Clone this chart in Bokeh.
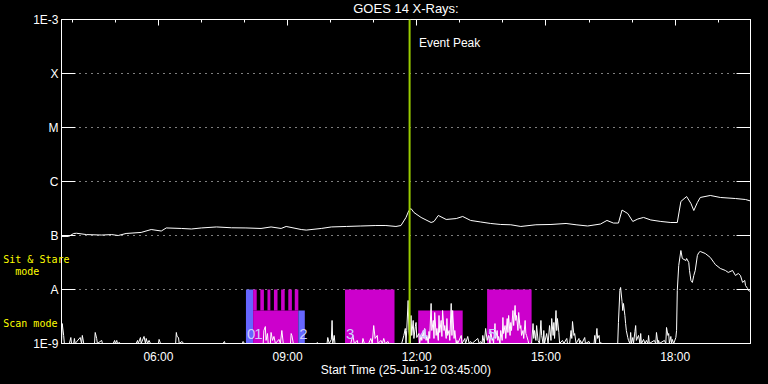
from bokeh.plotting import figure
from bokeh.models import (FixedTicker, LinearAxis, LogAxis, Span, Label, Grid,
                          ColumnDataSource, CustomJSTickFormatter, GlobalInlineStyleSheet)
from bokeh.core.properties import value
from bokeh.embed import file_html
from bokeh.resources import INLINE

# ---------------- data ----------------
START = "03:45"          # start time of the plot (UT, 25-Jun-12)
END = "19:45"

x_tick_labels = ["06:00", "09:00", "12:00", "15:00", "18:00"]
x_minor_labels = ["04:00", "05:00", "07:00", "08:00", "10:00", "11:00", "13:00",
                  "14:00", "16:00", "17:00", "19:00"]
y_tick_values = [1e-9, 1e-8, 1e-7, 1e-6, 1e-5, 1e-4, 1e-3]
y_tick_names = ["1E-9", "A", "B", "C", "M", "X", "1E-3"]
grid_levels = [1e-8, 1e-7, 1e-6, 1e-5, 1e-4]

# GOES 14 long channel (1-8 A), minutes after 03:45, W/m^2
long_min = [0, 10, 17, 21, 35, 56, 70, 79, 90, 111, 125, 139, 146, 167, 181, 195, 216,
            237, 257, 278, 292, 306, 313, 334, 341, 362, 376, 397, 417, 438, 452, 466,
            473, 480, 484, 487, 491, 501, 515, 519, 525, 536, 550, 559, 570, 584, 598,
            612, 626, 640, 661, 682, 703, 717, 733, 751, 760, 769, 776, 781, 789, 796,
            803, 811, 821, 835, 849, 858, 863, 871, 877, 881, 886, 890, 904, 918, 939,
            953, 960]
long_flux = [9.6e-8, 9.6e-8, 1.09e-7, 1.10e-7, 1.04e-7, 1.02e-7, 1.04e-7, 1.00e-7,
             1.09e-7, 1.14e-7, 1.29e-7, 1.21e-7, 1.38e-7, 1.35e-7, 1.32e-7, 1.38e-7,
             1.44e-7, 1.39e-7, 1.38e-7, 1.35e-7, 1.44e-7, 1.35e-7, 1.47e-7, 1.29e-7,
             1.26e-7, 1.35e-7, 1.44e-7, 1.47e-7, 1.50e-7, 1.53e-7, 1.53e-7, 1.47e-7,
             1.53e-7, 2.16e-7, 2.90e-7, 3.16e-7, 2.67e-7, 2.16e-7, 1.74e-7, 1.82e-7,
             2.35e-7, 1.98e-7, 2.06e-7, 2.25e-7, 1.90e-7, 1.78e-7, 1.67e-7, 1.60e-7,
             1.58e-7, 1.47e-7, 1.58e-7, 1.60e-7, 1.67e-7, 1.58e-7, 1.50e-7, 1.63e-7,
             1.90e-7, 1.70e-7, 1.70e-7, 2.96e-7, 2.55e-7, 1.82e-7, 2.02e-7, 2.16e-7,
             1.94e-7, 1.82e-7, 1.74e-7, 1.74e-7, 4.27e-7, 5.27e-7, 3.92e-7, 2.90e-7,
             4.08e-7, 5.06e-7, 5.51e-7, 5.06e-7, 4.84e-7, 4.64e-7, 4.36e-7]

# GOES 14 short channel (0.5-4 A), minutes after 03:45, W/m^2 (1e-9 = floor)
short_min = [0, 1, 3, 4, 11, 13, 14, 17, 18, 19, 26, 28, 29, 31, 46, 47, 49, 50, 56, 57,
             72, 74, 75, 77, 78, 81, 82, 104, 106, 107, 110, 111, 115, 117, 118, 120,
             122, 124, 135, 136, 138, 159, 160, 161, 163, 164, 168, 170, 225, 227, 228,
             252, 253, 255, 281, 282, 284, 285, 287, 288, 291, 292, 294, 296, 298, 303,
             305, 307, 309, 319, 320, 321, 323, 355, 356, 358, 370, 371, 373, 376, 377,
             378, 380, 381, 403, 406, 408, 412, 413, 419, 420, 422, 428, 431, 433, 435,
             437, 440, 441, 445, 447, 449, 451, 455, 456, 474, 477, 479, 480, 481, 483,
             484, 486, 487, 488, 490, 491, 493, 494, 495, 498, 499, 501, 502, 504, 505,
             506, 508, 509, 511, 512, 513, 515, 516, 518, 519, 520, 522, 523, 525, 526,
             527, 529, 530, 531, 533, 534, 536, 537, 538, 540, 541, 543, 544, 545, 547,
             548, 550, 551, 552, 557, 558, 562, 563, 566, 568, 570, 572, 580, 582, 584,
             586, 587, 589, 591, 593, 595, 597, 598, 600, 601, 602, 604, 605, 607, 608,
             609, 611, 612, 614, 615, 616, 618, 619, 621, 622, 623, 625, 626, 627, 629,
             630, 632, 633, 634, 636, 637, 639, 640, 641, 643, 644, 646, 647, 648, 650,
             651, 655, 657, 658, 659, 661, 662, 664, 666, 668, 669, 671, 672, 673, 676,
             678, 680, 682, 683, 685, 686, 687, 689, 690, 691, 693, 694, 698, 700, 704,
             705, 708, 710, 711, 712, 714, 715, 717, 721, 722, 723, 725, 729, 730, 735,
             736, 742, 743, 744, 746, 747, 749, 750, 751, 753, 775, 776, 778, 779, 781,
             782, 783, 785, 786, 787, 789, 790, 792, 793, 794, 796, 797, 799, 800, 801,
             804, 806, 807, 808, 811, 813, 815, 817, 818, 819, 826, 828, 829, 831, 832,
             833, 840, 842, 843, 845, 846, 847, 849, 850, 851, 853, 856, 857, 858, 860,
             863, 865, 870, 871, 874, 875, 877, 879, 881, 883, 886, 888, 890, 897, 904,
             909, 911, 918, 925, 929, 935, 939, 943, 946, 949, 952, 953, 956, 957, 960]
short_flux = [1e-9, 2.34e-9, 1.41e-9, 1e-9, 1e-9, 1.29e-9, 1e-9, 1e-9, 1.24e-9, 1e-9,
              1.29e-9, 1e-9, 1.41e-9, 1e-9, 1e-9, 1.60e-9, 1.24e-9, 1e-9, 1.14e-9, 1e-9,
              1e-9, 1.14e-9, 1e-9, 1.14e-9, 1e-9, 1.04e-9, 1e-9, 1e-9, 1.14e-9, 1e-9,
              1.29e-9, 1e-9, 1.35e-9, 1e-9, 1.24e-9, 1e-9, 1.14e-9, 1e-9, 1e-9, 1.19e-9,
              1e-9, 1e-9, 1.60e-9, 1.35e-9, 1.29e-9, 1e-9, 1.09e-9, 1e-9, 1e-9, 1.09e-9,
              1e-9, 1e-9, 1.09e-9, 1e-9, 1e-9, 1.74e-9, 2.06e-9, 1.14e-9, 1.53e-9, 1e-9,
              1e-9, 1.60e-9, 1.14e-9, 1.35e-9, 1e-9, 1.19e-9, 1e-9, 1.74e-9, 1e-9, 1e-9,
              1.53e-9, 1.41e-9, 1e-9, 1e-9, 1.04e-9, 1e-9, 1e-9, 1.29e-9, 1e-9, 1.19e-9,
              2.67e-9, 1e-9, 1.41e-9, 1e-9, 1e-9, 1.41e-9, 1e-9, 1.14e-9, 1e-9, 1e-9,
              1.24e-9, 1e-9, 1e-9, 1.24e-9, 1e-9, 2.15e-9, 1.24e-9, 1.41e-9, 1e-9,
              1.14e-9, 1e-9, 1.24e-9, 1e-9, 1.09e-9, 1e-9, 1e-9, 1.41e-9, 1.90e-9, 1e-9,
              1.74e-9, 6.26e-9, 1.74e-9, 1e-9, 3.30e-9, 1.41e-9, 2.67e-9, 1.24e-9,
              2.06e-9, 2.45e-9, 1.29e-9, 1.53e-9, 1e-9, 1.41e-9, 1.14e-9, 1.74e-9,
              1.24e-9, 1.90e-9, 1.14e-9, 1.41e-9, 1e-9, 1.67e-9, 1.24e-9, 5.51e-9,
              1.74e-9, 2.67e-9, 1.24e-9, 3.75e-9, 1.41e-9, 1.90e-9, 1.14e-9, 3.30e-9,
              1.60e-9, 2.67e-9, 1.35e-9, 4.08e-9, 1.74e-9, 2.15e-9, 1.24e-9, 2.90e-9,
              1.41e-9, 1.74e-9, 1.14e-9, 5.51e-9, 1.41e-9, 4.08e-9, 1.24e-9, 1.74e-9,
              1e-9, 1.14e-9, 1e-9, 1.41e-9, 1e-9, 1.24e-9, 1e-9, 1.35e-9, 1e-9, 1.09e-9,
              1e-9, 1.24e-9, 1e-9, 1.09e-9, 1e-9, 1.41e-9, 1e-9, 1.90e-9, 1.14e-9,
              1.41e-9, 1e-9, 1.74e-9, 1.14e-9, 1.24e-9, 1e-9, 2.34e-9, 1.24e-9, 1.74e-9,
              1.14e-9, 1.35e-9, 1e-9, 1.74e-9, 1.14e-9, 3.03e-9, 1.53e-9, 2.15e-9,
              1.24e-9, 2.90e-9, 1.60e-9, 3.30e-9, 1.41e-9, 2.45e-9, 1.74e-9, 4.08e-9,
              2.15e-9, 5.06e-9, 2.67e-9, 3.30e-9, 1.74e-9, 3.75e-9, 1.90e-9, 2.15e-9,
              1.41e-9, 1.74e-9, 1.24e-9, 2.67e-9, 1.53e-9, 1.41e-9, 1.14e-9, 1e-9, 1e-9,
              2.34e-9, 1.24e-9, 1.74e-9, 1.14e-9, 2.15e-9, 1.14e-9, 1e-9, 2.67e-9,
              1.41e-9, 1e-9, 1.74e-9, 1e-9, 1.53e-9, 1e-9, 2.15e-9, 1.14e-9, 2.90e-9,
              1.41e-9, 2.45e-9, 1.24e-9, 4.08e-9, 1.74e-9, 2.90e-9, 1.60e-9, 1e-9,
              1.14e-9, 1e-9, 1.24e-9, 1e-9, 1e-9, 1.74e-9, 1.24e-9, 2.55e-9, 1.41e-9,
              1.53e-9, 1e-9, 1.24e-9, 1e-9, 1.14e-9, 1e-9, 1.29e-9, 1e-9, 1.09e-9, 1e-9,
              1e-9, 1.41e-9, 1e-9, 1.90e-9, 1.24e-9, 1.41e-9, 1e-9, 1.04e-9, 1e-9, 1e-9,
              2.45e-9, 9.58e-9, 1.09e-8, 6.0e-9, 4.08e-9, 5.51e-9, 3.30e-9, 2.34e-9,
              1.74e-9, 1.29e-9, 1.14e-9, 1e-9, 1.60e-9, 1e-9, 1.29e-9, 1e-9, 1.67e-9,
              2.15e-9, 1.14e-9, 1.41e-9, 1e-9, 1.53e-9, 1e-9, 1.19e-9, 1e-9, 1.14e-9,
              1e-9, 1.41e-9, 1e-9, 1.14e-9, 1e-9, 1.60e-9, 1e-9, 1.14e-9, 1e-9, 1.14e-9,
              1e-9, 1.98e-9, 1.41e-9, 1.53e-9, 1e-9, 1.35e-9, 1e-9, 1.19e-9, 1e-9,
              1.29e-9, 1.74e-9, 9.58e-9, 2.78e-8, 5.27e-8, 3.75e-8, 3.44e-8, 3.75e-8,
              3.16e-8, 2.25e-8, 1.47e-8, 1.35e-8, 1.82e-8, 2.25e-8, 4.27e-8, 4.84e-8,
              5.06e-8, 4.64e-8, 3.92e-8, 3.16e-8, 2.90e-8, 2.45e-8, 2.25e-8, 2.07e-8,
              2.25e-8, 1.82e-8, 1.98e-8, 1.82e-8, 1.35e-8, 1.47e-8, 1.19e-8, 1.04e-8,
              9.58e-9, 9.18e-9]

# observations (IRIS-like timeline): id, start, end, mode, kind
obs_id = ["0", "1", "2", "3", "4", "5"]
obs_start = ["08:02", "08:12", "09:15", "10:20", "12:02", "13:38"]
obs_end = ["08:12", "09:15", "09:24", "11:29", "13:04", "14:40"]
obs_mode = ["sit", "scan", "scan", "sit", "scan", "sit"]
obs_kind = ["cal", "sci", "cal", "sci", "sci", "sci"]
# sit-and-stare sub-exposures during observation 1
sub_start = ["08:12", "08:22", "08:32", "08:41", "08:51", "09:01", "09:10"]
sub_end = ["08:17", "08:27", "08:36", "08:46", "08:56", "09:06", "09:15"]

event_peak = "11:50"

title_text = "GOES 14 X-Rays:"
xlabel_text = "Start Time (25-Jun-12 03:45:00)"
mode_texts = ["Sit & Stare", "mode", "Scan mode"]

# ---------------- styling ----------------
MODE_TOP = {"sit": 1e-8, "scan": 4.1e-9}
KIND_COLOR = {"cal": "#6666ff", "sci": "#cc00cc"}
FONT = "Liberation Sans"
MONO = "DejaVu Sans Mono"
FLOOR = 1e-9
NB = "\u00a0"
mode_label_y = [3.59e-8, 2.15e-8, 2.34e-9]       # vertical placement of margin texts
mode_label_pad = [0, 5, 2]                        # right padding (characters)
SHIFT = 3                                         # page shifted up to give the title room


def to_min(hhmm):
    h, m = hhmm.split(":")
    sh, sm = START.split(":")
    return int(h) * 60 + int(m) - (int(sh) * 60 + int(sm))


x_major = [to_min(t) for t in x_tick_labels]
x_minor = [to_min(t) for t in x_minor_labels]

p = figure(width=768, height=384 + SHIFT, output_backend="svg", toolbar_location=None,
           x_range=(0, to_min(END)), y_range=(1e-9, 1e-3), y_axis_type="log",
           x_axis_location=None, y_axis_location=None,
           min_border_left=60, min_border_right=18, min_border_top=19 + SHIFT,
           min_border_bottom=41,
           background_fill_color="black", border_fill_color="black",
           outline_line_color="white")
p.grid.visible = False
p.stylesheets = [GlobalInlineStyleSheet(
    css="html,body{margin:0;padding:0;background:#000;overflow:hidden;}"
        "body{margin-top:-%dpx;}" % SHIFT)]

empty_fmt = CustomJSTickFormatter(code="return '';")

left = LogAxis(ticker=FixedTicker(ticks=y_tick_values, minor_ticks=[]),
               formatter=CustomJSTickFormatter(args=dict(names=y_tick_names),
                                               code="return names[Math.round(Math.log10(tick)) + 9];"),
               major_tick_in=14, major_tick_out=0, minor_tick_in=0, minor_tick_out=0,
               axis_line_color="white", major_tick_line_color="white",
               major_label_text_color="white", major_label_text_font=FONT,
               major_label_text_font_size="12px", major_label_standoff=3)
p.add_layout(left, "left")

# yellow mode captions in the left margin, drawn as labels of a line-less axis
mode_axis = LogAxis(ticker=FixedTicker(ticks=mode_label_y, minor_ticks=[]),
                    formatter=CustomJSTickFormatter(
                        args=dict(pos=mode_label_y,
                                  names=[t + NB * n for t, n in zip(mode_texts, mode_label_pad)]),
                        code="const i = pos.indexOf(tick); return i >= 0 ? names[i] : '';"),
                    major_tick_in=0, major_tick_out=0, minor_tick_in=0, minor_tick_out=0,
                    axis_line_color=None, major_tick_line_color=None,
                    major_label_text_color="#ffff00", major_label_text_font=MONO,
                    major_label_text_font_size="10px", major_label_standoff=-39)
p.add_layout(mode_axis, "left")

right = LogAxis(ticker=FixedTicker(ticks=y_tick_values, minor_ticks=[]), formatter=empty_fmt,
                major_tick_in=14, major_tick_out=0, minor_tick_in=0, minor_tick_out=0,
                axis_line_color="white", major_tick_line_color="white",
                major_label_text_font_size="0px", major_label_standoff=0)
p.add_layout(right, "right")

top = LinearAxis(ticker=FixedTicker(ticks=x_major, minor_ticks=x_minor), formatter=empty_fmt,
                 major_tick_in=6, major_tick_out=0, minor_tick_in=3, minor_tick_out=0,
                 axis_line_color="white", major_tick_line_color="white",
                 minor_tick_line_color="white",
                 major_label_text_font_size="0px", major_label_standoff=0,
                 axis_label=title_text, axis_label_text_color="white",
                 axis_label_text_font=FONT, axis_label_text_font_size="13px",
                 axis_label_text_font_style="normal", axis_label_standoff=4)
p.add_layout(top, "above")

bottom = LinearAxis(ticker=FixedTicker(ticks=x_major, minor_ticks=[]),
                    formatter=CustomJSTickFormatter(args=dict(pos=x_major, lab=x_tick_labels),
                                                    code="const i = pos.indexOf(tick); return i >= 0 ? lab[i] : '';"),
                    major_tick_in=0, major_tick_out=0, minor_tick_in=0, minor_tick_out=0,
                    axis_line_color="white", major_label_text_color="white",
                    major_label_text_font=FONT, major_label_text_font_size="12px",
                    major_label_standoff=6,
                    axis_label=xlabel_text, axis_label_text_color="white",
                    axis_label_text_font=FONT, axis_label_text_font_size="12px",
                    axis_label_text_font_style="normal", axis_label_standoff=-4)
p.add_layout(bottom, "below")

p.add_layout(Grid(dimension=1, ticker=FixedTicker(ticks=grid_levels),
                  grid_line_color="white", grid_line_dash="1 5", grid_line_width=1))

# observation boxes
obs_src = ColumnDataSource(dict(
    left=[to_min(t) for t in obs_start], right=[to_min(t) for t in obs_end],
    top=[MODE_TOP[m] for m in obs_mode], bottom=[FLOOR] * len(obs_id),
    color=[KIND_COLOR[k] for k in obs_kind], label=obs_id))
p.quad(left="left", right="right", top="top", bottom="bottom", fill_color="color",
       line_color=None, source=obs_src)
p.quad(left=[to_min(t) for t in sub_start], right=[to_min(t) for t in sub_end],
       top=[MODE_TOP["sit"]] * len(sub_start), bottom=[MODE_TOP["scan"]] * len(sub_start),
       fill_color=KIND_COLOR["sci"], line_color=None)

# flux curves
p.line(long_min, long_flux, line_color="white", line_width=1)
p.line(short_min, short_flux, line_color="white", line_width=1)

# observation labels
p.text(x="left", y=1.53e-9, text="label", source=obs_src, x_offset=1,
       text_font=value(FONT), text_font_size="15px", text_color="#ccccff",
       text_baseline="middle", text_align="left")

# event peak
p.add_layout(Span(location=to_min(event_peak), dimension="height",
                  line_color="#99cc00", line_width=2))
p.add_layout(Label(x=to_min(event_peak) + 13, y=3.6e-4, text="Event Peak",
                   text_color="white", text_font=FONT, text_font_size="12px",
                   text_baseline="middle"))

open("out.html", "w").write(file_html(p, INLINE))
